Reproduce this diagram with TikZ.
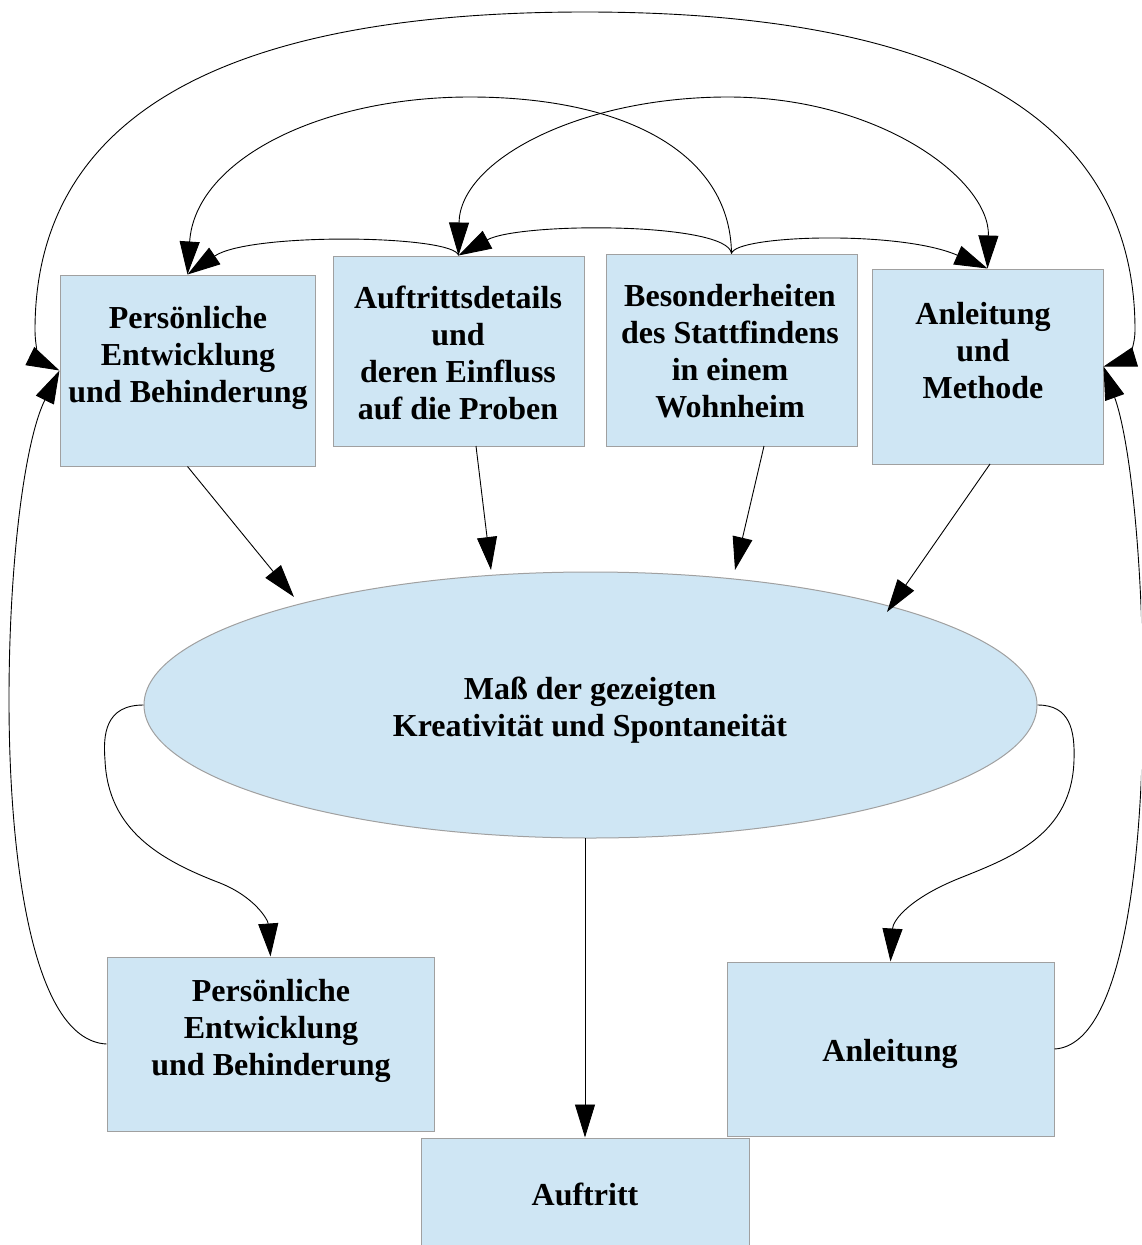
\documentclass[tikz,border=0pt]{standalone}
\usepackage{fontspec}
\setmainfont{Liberation Serif}
\usetikzlibrary{arrows.meta,shapes.geometric}
\definecolor{boxfill}{RGB}{207,230,244}
\definecolor{boxline}{RGB}{160,160,160}
\begin{document}
\begin{tikzpicture}[x=1pt,y=-1pt,
  box/.style={draw=boxline,fill=boxfill,line width=1pt,inner sep=0pt,rectangle},
  lbl/.style={align=center,font=\fontsize{32}{37}\selectfont\bfseries,inner sep=0pt},
  tipA/.tip={Triangle[length=33pt,width=20pt]},
  conn/.style={line width=0.9pt,-tipA},
  conntwo/.style={line width=0.9pt,tipA-tipA},
  plainline/.style={line width=0.9pt}]
\useasboundingbox (0,0) rectangle (1141,1245);
\clip (0,0) rectangle (1141,1245);
% boxes
\node[box,minimum width=255pt,minimum height=191pt] (p1) at (187.5,370.5) {};
\node[box,minimum width=251pt,minimum height=190pt] (a) at (458.5,351) {};
\node[box,minimum width=251pt,minimum height=192pt] (b) at (731.5,350) {};
\node[box,minimum width=231pt,minimum height=195pt] (m) at (987.5,366.5) {};
\node[box,ellipse,minimum width=893pt,minimum height=266pt] (e) at (590.5,705) {};
\node[box,minimum width=327pt,minimum height=174pt] (p2) at (270.5,1044) {};
\node[box,minimum width=327pt,minimum height=174pt] (an) at (890.5,1049) {};
\node[box,minimum width=328pt,minimum height=174pt] (t) at (585,1225) {};
% labels
\node[lbl] (p1t) at (188,357.5) {Persönliche\\Entwicklung\\und Behinderung};
\node[lbl] (at) at (458,353) {Auftrittsdetails\\und\\deren Einfluss\\auf die Proben};
\node[lbl] (bt) at (730,351.5) {Besonderheiten\\des Stattfindens\\in einem\\Wohnheim};
\node[lbl] (mt) at (983,350.5) {Anleitung\\und\\Methode};
\node[lbl] (et) at (590,710) {Maß der gezeigten\\Kreativität und Spontaneität};
\node[lbl] (p2t) at (271,1031) {Persönliche\\Entwicklung\\und Behinderung};
\node[lbl] (ant) at (890,1054) {Anleitung};
\node[lbl] (tt) at (585,1194) {Auftritt};
% free ends
\coordinate (a1) at (476,446);
\coordinate (b1) at (764,446);
\coordinate (m1) at (990,464);
\coordinate (e1) at (294,597);
\coordinate (e2) at (491,570);
\coordinate (e3) at (735,570);
\coordinate (e4) at (887,612);
\coordinate (e5) at (585,838);
% top connectors
\draw[conn] (b.north) .. controls (728,222) and (520,222) .. (a.north);
\draw[conn] (b.north) .. controls (735,235) and (900,230) .. (m.north);
\draw[conn] (a.north) .. controls (455,235) and (250,232) .. (p1.north);
\draw[conn] (b.north) .. controls (730,150) and (620,97) .. (470,97)
  .. controls (320,97) and (195,160) .. (p1.north);
\draw[conntwo] (a.north) .. controls (460,160) and (580,97) .. (728,97)
  .. controls (880,97) and (990,180) .. (m.north);
\draw[conntwo] (p1.west) .. controls (42,362) and (35,350) .. (35,330)
  .. controls (35,130) and (200,12) .. (585,12)
  .. controls (970,12) and (1135,130) .. (1135,330)
  .. controls (1135,350) and (1125,360) .. (m.east);
% into ellipse
\draw[conn] (p1.south) -- (e1);
\draw[conn] (a1) -- (e2);
\draw[conn] (b1) -- (e3);
\draw[conn] (m1) -- (e4);
% out of ellipse
\draw[conn] (e5) -- (t.north);
\draw[conn] (e.west) .. controls (105,705) and (103,735) .. (105,760)
  .. controls (108,830) and (160,860) .. (220,883)
  .. controls (255,897) and (268,920) .. (p2.north);
\draw[conn] (e.east) .. controls (1070,705) and (1075,730) .. (1074,760)
  .. controls (1072,835) and (1010,858) .. (960,878)
  .. controls (910,898) and (893,920) .. (an.north);
% feedback loops
\draw[conn] (p2.west) .. controls (30,1040) and (9,850) .. (9,700)
  .. controls (9,560) and (25,440) .. (p1.west);
\draw[conn] (an.east) .. controls (1125,1045) and (1143,850) .. (1143,700)
  .. controls (1143,560) and (1130,440) .. (m.east);
\end{tikzpicture}
\end{document}
